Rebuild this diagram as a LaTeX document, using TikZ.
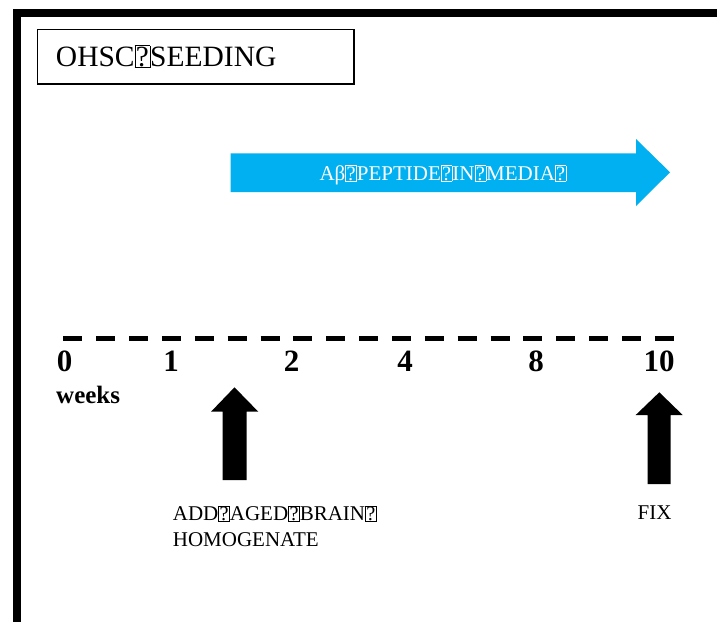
\documentclass[tikz,border=0pt]{standalone}
\usepackage{fontspec}
\usepackage{graphicx}
\setmainfont{Liberation Serif}
\definecolor{skyarrow}{HTML}{00B0F0}
\newcommand\mglyph{{\setlength\fboxsep{0.8pt}\setlength\fboxrule{0.5pt}\resizebox{!}{0.7em}{\fbox{?}}}}
\tikzset{
  framebar/.style={fill=black},
  blockarrow/.style={fill=black},
  daylabel/.style={anchor=base, inner sep=0pt, font=\fontsize{31}{35}\selectfont\bfseries},
  plaintext/.style={inner sep=0pt, font=\fontsize{21}{26}\selectfont},
}
\begin{document}
\begin{tikzpicture}[x=1pt,y=-1pt]
\useasboundingbox (0,0) rectangle (717,622);
% frame
\fill[framebar] (13.3,9) rectangle (717,17);
\fill[framebar] (13.3,9) rectangle (20.7,622);
% OHSC box
\node[draw, line width=1.3pt, minimum width=316.7pt, minimum height=54.7pt,
      inner xsep=18.7pt, text width=279.3pt, align=left,
      font=\fontsize{29.5}{34}\selectfont] (ohsc) at (195.6,56.6) {OHSC\mglyph SEEDING};
% blue arrow
\fill[skyarrow] (230.7,153.3) -- (636,153.3) -- (636,139) -- (670,172.3) -- (636,206) -- (636,192) -- (230.7,192) -- cycle;
\node[plaintext, anchor=base, text=white] (pep) at (443,180) {Aβ\mglyph PEPTIDE\mglyph IN\mglyph MEDIA\mglyph};
% timeline
\coordinate (ls) at (63.3,338.3);
\coordinate (le) at (674,338.3);
\draw[line width=4.7pt, dash pattern=on 19pt off 13.87pt] (ls) -- (le);
\node[daylabel] (w0) at (64.7,371.7) {0};
\node[daylabel] (w1) at (171,371.7) {1};
\node[daylabel] (w2) at (291.7,371.7) {2};
\node[daylabel] (w4) at (405,371.7) {4};
\node[daylabel] (w8) at (536,371.7) {8};
\node[daylabel] (w10) at (659,371.7) {10};
\node[anchor=base west, inner sep=0pt, font=\fontsize{25}{30}\selectfont\bfseries] (weeks) at (56,403.3) {weeks};
% up arrows
\fill[blockarrow] (222.7,480) -- (222.7,411.7) -- (211,411.7) -- (234.5,387.3) -- (258.3,411.7) -- (246.7,411.7) -- (246.7,480) -- cycle;
\fill[blockarrow] (647.7,484) -- (647.7,415) -- (635.7,415) -- (659.3,392.3) -- (682.7,415) -- (670.7,415) -- (670.7,484) -- cycle;
\node[plaintext, anchor=north west, align=left] (add) at (172.7,505.5) {ADD\mglyph AGED\mglyph BRAIN\mglyph\\HOMOGENATE};
\node[plaintext, anchor=base] (fix) at (654.5,519.3) {FIX};
\end{tikzpicture}
\end{document}
